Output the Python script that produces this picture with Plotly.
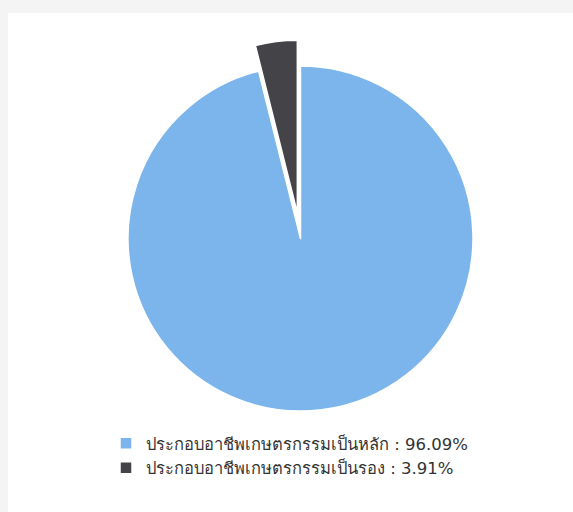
import plotly.graph_objects as go

labels = ["ประกอบอาชีพเกษตรกรรมเป็นหลัก : 96.09%", "ประกอบอาชีพเกษตรกรรมเป็นรอง : 3.91%"]
values = [96.09, 3.91]
colors = ["#7cb5ec", "#434348"]
pulls = [0, 0.15]

W, H = 573, 512
ml, mt = 8, 13
pw, ph = W - ml, H - mt

cx, cy, r = 300.5, 238.5, 172.5
box = 2 * r * (1 + max(pulls))
fx = (cx - ml) / pw
fy = 1 - (cy - mt) / ph
dx = box / pw / 2
dy = box / ph / 2

fig = go.Figure(go.Pie(
    labels=labels, values=values, sort=False, direction="clockwise", rotation=0,
    pull=pulls, marker=dict(colors=colors, line=dict(color="white", width=1.5)),
    textinfo="none", hoverinfo="label",
    domain=dict(x=[fx - dx, fx + dx], y=[fy - dy, fy + dy]),
))
fig.update_layout(
    width=W, height=H,
    margin=dict(l=ml, t=mt, r=0, b=0),
    paper_bgcolor="#f4f4f4",
    shapes=[dict(type="rect", xref="paper", yref="paper", x0=0, x1=1.05, y0=-0.05, y1=1,
                 fillcolor="white", line=dict(width=0), layer="below")],
    showlegend=True,
    legend=dict(x=(106 - ml) / pw, xanchor="left", y=1 - (426 - mt) / ph, yanchor="top",
                font=dict(family="'DejaVu Sans', sans-serif", size=16.5, color="#333333"),
                bgcolor="rgba(0,0,0,0)", orientation="v", tracegroupgap=0),
)
fig.write_html("out.html", config={"displayModeBar": False},
               post_script="document.body.style.margin='0px';document.body.style.background='#f4f4f4';")
